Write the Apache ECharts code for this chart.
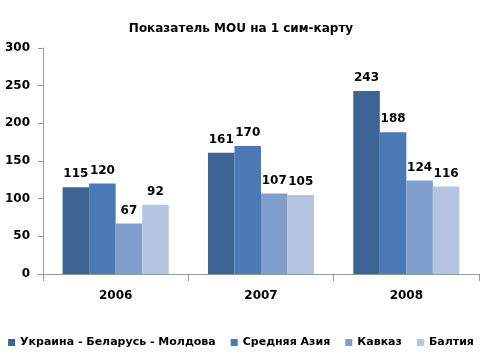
<!DOCTYPE html>
<html><head><meta charset="utf-8">
<script src="https://cdn.jsdelivr.net/npm/echarts@6/dist/echarts.min.js"></script>
<style>html,body{margin:0;padding:0;background:#fff}#c{width:482px;height:356px}</style>
</head><body><div id="c"></div>
<script>
const categories = ['2006', '2007', '2008'];
const seriesNames = ['Украина - Беларусь - Молдова', 'Средняя Азия', 'Кавказ', 'Балтия'];
const ukraineBelarusMoldova = [115, 161, 243];
const centralAsia = [120, 170, 188];
const caucasus = [67, 107, 124];
const baltics = [92, 105, 116];
const yTicks = [0, 50, 100, 150, 200, 250, 300];
const colors = ['#3D6495', '#4A7AB6', '#809ECB', '#B5C5E1'];
const values = [ukraineBelarusMoldova, centralAsia, caucasus, baltics];
const font = 'DejaVu Sans';
const chart = echarts.init(document.getElementById('c'));
chart.setOption({
  animation: false,
  textStyle: {fontFamily: font},
  title: {text: 'Показатель MOU на 1 сим-карту', left: 'center', top: 18,
    textStyle: {fontFamily: font, fontSize: 12, fontWeight: 'bold', color: '#000'}},
  legend: {bottom: 3, left: 'center', itemWidth: 7, itemHeight: 7, itemGap: 15,
    icon: 'rect', textStyle: {fontFamily: font, fontSize: 11, fontWeight: 'bold', color: '#000'},
    data: seriesNames},
  grid: {left: 43, right: 3, top: 48, bottom: 82},
  xAxis: {type: 'category', data: categories,
    axisLine: {lineStyle: {color: '#999'}},
    axisTick: {show: true, length: 7, lineStyle: {color: '#999'}},
    axisLabel: {fontFamily: font, fontSize: 12, fontWeight: 'bold', color: '#000', margin: 16}},
  yAxis: {type: 'value', min: yTicks[0], max: yTicks[yTicks.length-1], interval: 50,
    splitLine: {show: false},
    axisLine: {show: true, lineStyle: {color: '#999'}},
    axisTick: {show: true, length: 5, lineStyle: {color: '#999'}},
    axisLabel: {fontFamily: font, fontSize: 12, fontWeight: 'bold', color: '#000', margin: 13}},
  series: values.map((v, i) => ({
    name: seriesNames[i], type: 'bar', data: v, barGap: '0%', barCategoryGap: '27%',
    itemStyle: {color: colors[i]},
    label: {show: true, position: 'top', distance: 7, fontFamily: font, fontSize: 12, fontWeight: 'bold', color: '#000'}
  }))
});
</script></body></html>
